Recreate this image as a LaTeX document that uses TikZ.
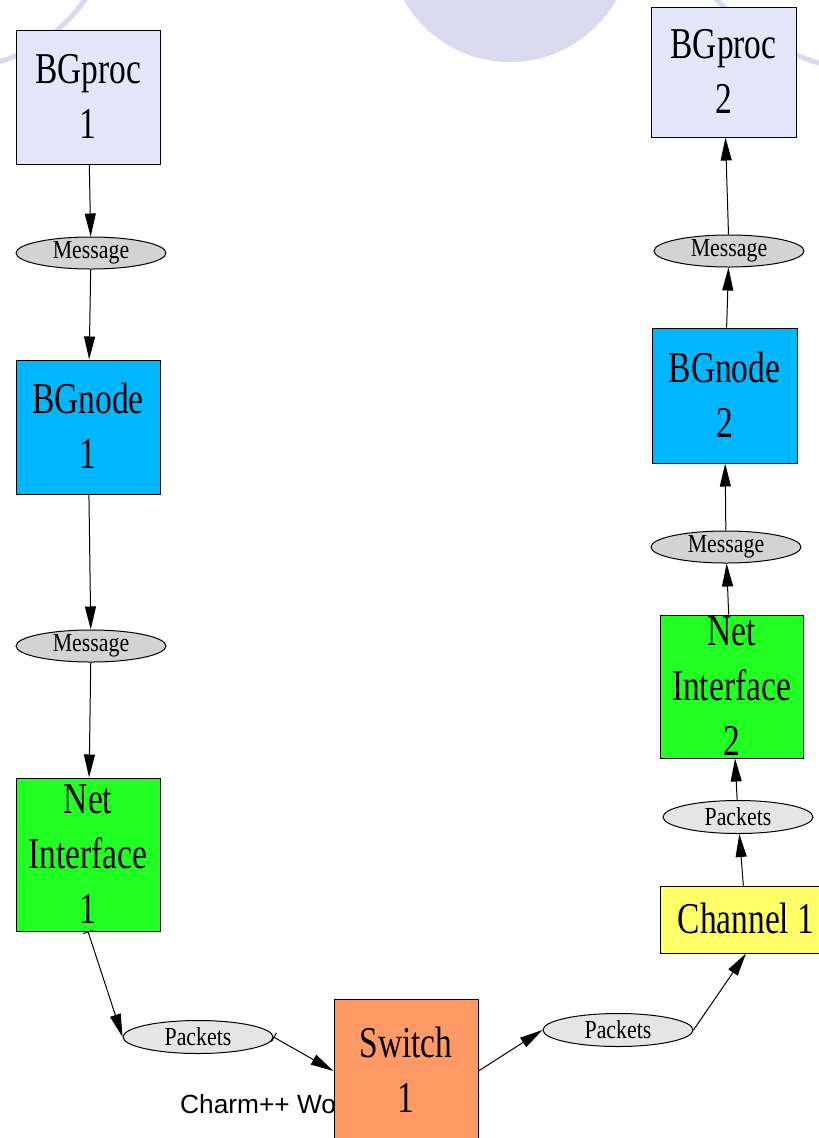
\documentclass[tikz,border=0pt]{standalone}
\usepackage{fontspec}
\setmainfont{Liberation Serif}
\newfontfamily\slidefont{Liberation Sans}
\usetikzlibrary{shapes.geometric,arrows.meta}

\definecolor{lavbox}{RGB}{230,230,250}
\definecolor{nodeblue}{RGB}{0,183,255}
\definecolor{nigreen}{RGB}{34,255,34}
\definecolor{sworange}{RGB}{255,153,102}
\definecolor{chyellow}{RGB}{255,255,102}
\definecolor{msggray}{RGB}{211,211,211}
\definecolor{pktgray}{RGB}{229,229,229}
\definecolor{decor}{RGB}{218,217,237}

\newcommand{\sqlbl}[1]{\scalebox{0.76}[1]{\begin{tabular}{@{}c@{}}#1\end{tabular}}}
\newcommand{\ovlbl}[1]{\scalebox{0.84}[1]{#1}}

\tikzset{
  blk/.style={draw=black, line width=1pt, inner sep=0pt, minimum width=144, minimum height=134},
  blktext/.style={inner sep=0pt, font=\fontsize{44}{55}\selectfont},
  msgov/.style={ellipse, draw=black, line width=1pt, fill=msggray, inner sep=0pt,
    minimum width=150, minimum height=31, font=\fontsize{26}{30}\selectfont},
  pktov/.style={msgov, fill=pktgray, minimum height=33},
  flow/.style={line width=1pt, -{Triangle[length=23pt,width=11pt]}},
  teeflow/.style={line width=1pt, {Bar[width=10pt]}-{Triangle[length=23pt,width=11pt]}}
}

\begin{document}
\begin{tikzpicture}[x=1pt,y=-1pt]
%%%%% START %%%%%
\useasboundingbox (0,0) rectangle (819,1138);
\clip (0,0) rectangle (819,1138);

% slide backdrop
\fill[decor] (510,-60) circle (122);
\draw[decor, line width=5pt] (-49,-95) circle (164);
\draw[decor, line width=5pt] (890,-165) circle (239);
\node[anchor=base west, inner sep=0pt, font=\slidefont\fontsize{26.3}{30}\selectfont] (foot) at (180,1113) {Charm++ Workshop 2007};

% sender side
\node[blk, fill=lavbox] (bgp1) at (88,97) {};
\node[blktext] at ([yshift=-3]bgp1.center) {\sqlbl{BGproc\\1}};
\node[msgov] (msg1) at (91,253) {\ovlbl{Message}};
\node[blk, fill=nodeblue] (bgn1) at (88,427) {};
\node[blktext] at ([yshift=-3]bgn1.center) {\sqlbl{BGnode\\1}};
\node[msgov] (msg2) at (91,646) {\ovlbl{Message}};
\node[blk, fill=nigreen, minimum height=153] (ni1) at (88,854.5) {};
\node[blktext] at ([yshift=-3]ni1.center) {\sqlbl{Net\\Interface\\1}};
\node[pktov] (pk1) at (198,1037) {\ovlbl{Packets}};

% network
\node[blk, fill=sworange, minimum height=144] (sw) at (406,1071) {};
\node[blktext] at ([yshift=-3]sw.center) {\sqlbl{Switch\\1}};
\node[pktov] (pk2) at (618,1030) {\ovlbl{Packets}};
\node[blk, fill=chyellow, minimum width=172, minimum height=67] (ch) at (746,919.5) {};
\node[blktext] at ([yshift=-3]ch.center) {\sqlbl{Channel 1}};

% receiver side
\node[pktov] (pk3) at (738,817) {\ovlbl{Packets}};
\node[blk, fill=nigreen, minimum width=143, minimum height=143] (ni2) at (731.5,686.5) {};
\node[blktext] at ([yshift=-3]ni2.center) {\sqlbl{Net\\Interface\\2}};
\node[msgov] (msg4) at (726,547) {\ovlbl{Message}};
\node[blk, fill=nodeblue, minimum width=145, minimum height=135] (bgn2) at (724.5,395.5) {};
\node[blktext] at ([yshift=-3]bgn2.center) {\sqlbl{BGnode\\2}};
\node[msgov] (msg3) at (729,251) {\ovlbl{Message}};
\node[blk, fill=lavbox, minimum width=145, minimum height=130] (bgp2) at (723.5,72) {};
\node[blktext] at ([yshift=-3]bgp2.center) {\sqlbl{BGproc\\2}};

% connectors
\draw[flow] (bgp1) -- (msg1);
\draw[flow] (msg1) -- (bgn1);
\draw[flow] (bgn1) -- (msg2);
\draw[flow] (msg2) -- (ni1);
\draw[teeflow] (ni1.south) -- (pk1.west);
\draw[teeflow] (pk1.east) -- (sw.west);
\draw[flow] (sw.east) -- (pk2.west);
\draw[flow] (pk2.east) -- (ch.south);
\draw[flow] (ch) -- (pk3);
\draw[flow] (pk3) -- (ni2);
\draw[flow] (ni2) -- (msg4);
\draw[flow] (msg4) -- (bgn2);
\draw[flow] (bgn2) -- (msg3);
\draw[flow] (msg3) -- (bgp2);
%%%%% END %%%%%
\end{tikzpicture}
\end{document}
